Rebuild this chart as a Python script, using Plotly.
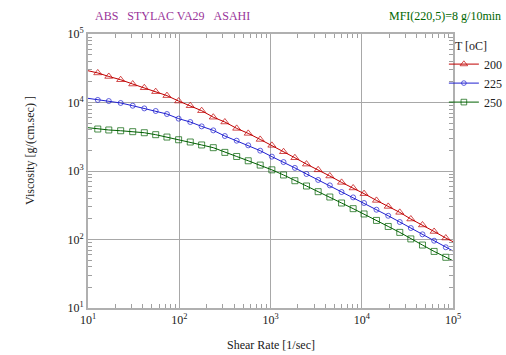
import plotly.graph_objects as go

# Shear rate [1/sec] (first and last entries are the plot edges, others are marker positions)
shear_rate = [10, 12.8, 16.9, 22.8, 30.9, 41.4, 55.2, 73.3, 98.4, 132, 176,
              236, 316, 426, 570, 771, 1035, 1390, 1850, 2480, 3330,
              4470, 6010, 8050, 10600, 14500, 19500, 26100, 34500, 46300, 62100,
              83400, 100000]

# Viscosity [g/(cm.sec)] per temperature
visc_200 = [29100, 27000, 24000, 21500, 18600, 16400, 14400, 12600, 10500, 8970, 7590,
            6100, 5190, 4190, 3540, 2890, 2370, 1910, 1560, 1260, 1040,
            845, 682, 565, 467, 372, 304, 249, 199, 163, 131,
            105, 93]
visc_225 = [11500, 10900, 10500, 9840, 8970, 8200, 7520, 6790, 5810, 5190, 4480,
            3920, 3240, 2770, 2370, 1980, 1620, 1350, 1110, 904, 740,
            617, 493, 412, 341, 272, 222, 180, 147, 119, 96,
            77, 68]
visc_250 = [4290, 4100, 3970, 3870, 3750, 3620, 3390, 3130, 2860, 2650, 2400,
            2190, 1870, 1630, 1410, 1220, 1040, 875, 721, 604, 499,
            417, 341, 282, 236, 190, 155, 127, 102, 83, 67,
            55, 49]

temps = ["200", "225", "250"]
series = [visc_200, visc_225, visc_250]
colors = ["#c00000", "#2020d0", "#006000"]
symbols = ["triangle-up-open", "circle-open", "square-open"]
sizes = [7, 5, 6]

tick_vals = [10, 100, 1000, 10000, 100000]
tick_text = ["10<sup>1</sup>", "10<sup>2</sup>", "10<sup>3</sup>", "10<sup>4</sup>", "10<sup>5</sup>"]
minor_vals = [m * 10 ** k for k in range(1, 5) for m in range(2, 10)]

FONT = "Liberation Serif"

fig = go.Figure()
n = len(shear_rate)
for t, y, c, s, sz in zip(temps, series, colors, symbols, sizes):
    msize = [0] + [sz] * (n - 2) + [0]
    fig.add_trace(go.Scatter(
        x=shear_rate, y=y, name=t, mode="lines+markers",
        line=dict(color=c, width=1),
        marker=dict(symbol=s, size=msize, color=c, line=dict(width=1, color=c)),
    ))

axis_common = dict(
    type="log", showline=True, linecolor="#b0b0b0", linewidth=2, mirror="allticks",
    showgrid=True, gridcolor="#a8a8a8", gridwidth=1, zeroline=False,
    ticks="inside", ticklen=0, tickcolor="#a0a0a0",
    tickmode="array", tickvals=tick_vals, ticktext=tick_text,
    tickfont=dict(family=FONT, size=12, color="#202020"),
    minor=dict(ticks="inside", ticklen=4, tickcolor="#a0a0a0", tickwidth=1,
               tickmode="array", tickvals=minor_vals, showgrid=False),
)
fig.update_xaxes(range=[1, 5], **axis_common)
fig.update_yaxes(range=[1, 5], **axis_common)

fig.update_layout(
    width=506, height=355,
    margin=dict(l=88, r=53, t=34, b=47, autoexpand=False),
    paper_bgcolor="white", plot_bgcolor="white",
    font=dict(family=FONT, size=12, color="#202020"),
    showlegend=True,
    legend=dict(
        title=dict(text="\u00a0\u00a0\u00a0T [oC]", font=dict(family=FONT, size=12, color="#202020")),
        x=0.975, xanchor="left", y=1.0, yanchor="top",
        bgcolor="rgba(0,0,0,0)", borderwidth=0, itemwidth=30,
        font=dict(family=FONT, size=12, color="#202020"), tracegroupgap=0,
    ),
    annotations=[
        dict(text="ABS\u00a0\u00a0\u00a0STYLAC VA29\u00a0\u00a0\u00a0ASAHI",
             xref="paper", yref="paper", x=(93 - 88) / 365, y=(308 - 16) / 274,
             xanchor="left", yanchor="middle", showarrow=False,
             font=dict(family=FONT, size=12, color="#993399")),
        dict(text="MFI(220,5)=8 g/10min",
             xref="paper", yref="paper", x=(503 - 88) / 365, y=(308 - 16) / 274,
             xanchor="right", yanchor="middle", showarrow=False,
             font=dict(family=FONT, size=12, color="#006600")),
        dict(text="Shear Rate [1/sec]",
             xref="paper", yref="paper", x=0.5, y=(308 - 345) / 274,
             xanchor="center", yanchor="middle", showarrow=False,
             font=dict(family=FONT, size=12, color="#202020")),
        dict(text="Viscosity [g/(cm.sec) ]", textangle=-90,
             xref="paper", yref="paper", x=(30 - 88) / 365, y=(308 - 150) / 274,
             xanchor="center", yanchor="middle", showarrow=False,
             font=dict(family=FONT, size=12, color="#202020")),
    ],
)

# Remove the default page margin so the 506x355 figure fills the window exactly
fig.write_html(
    "out.html",
    config={"displayModeBar": False},
    post_script="document.body.style.margin='0px';document.body.style.overflow='hidden';",
)
